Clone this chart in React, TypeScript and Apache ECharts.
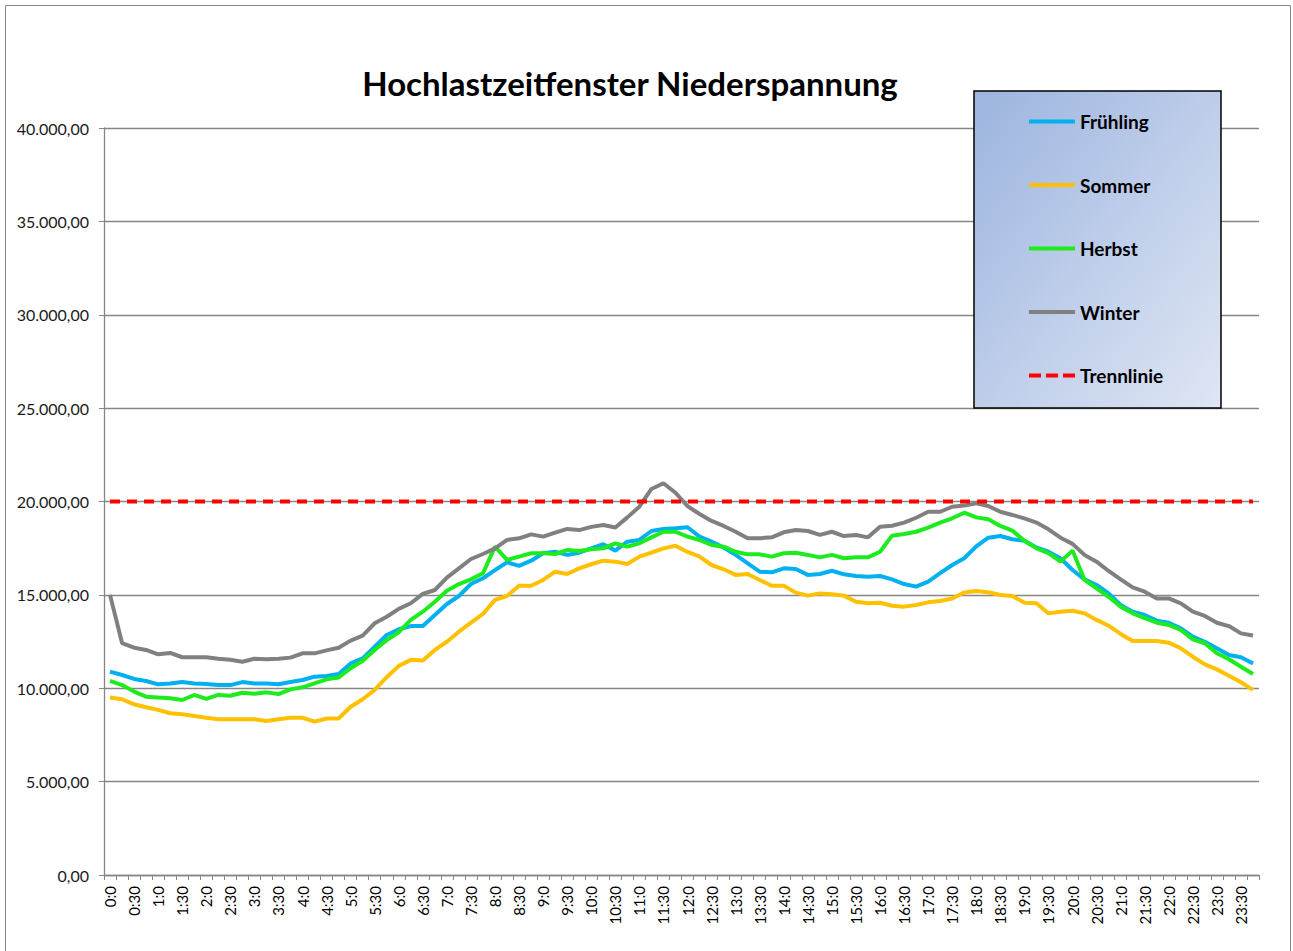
import React, { useEffect, useRef } from "react";
import * as echarts from "echarts";

const categories: string[] = Array.from({ length: 96 }, (_, i) => `${Math.floor(i / 4)}:${(i % 4) * 15}`);

const seriesNames = ["Frühling", "Sommer", "Herbst", "Winter", "Trennlinie"];

const fruehling = [
  10890, 10710, 10500, 10390, 10210, 10260, 10330, 10250, 10230, 10170, 10170, 10330,
  10260, 10260, 10210, 10330, 10440, 10620, 10660, 10760, 11330, 11600, 12230, 12850,
  13160, 13330, 13330, 13920, 14510, 14940, 15580, 15890, 16330, 16740, 16550, 16830,
  17230, 17310, 17140, 17260, 17490, 17710, 17370, 17850, 17940, 18420, 18530, 18570,
  18620, 18120, 17850, 17540, 17140, 16690, 16240, 16210, 16420, 16390, 16070, 16120,
  16290, 16100, 16010, 15970, 16010, 15830, 15580, 15440, 15710, 16160, 16600, 16960,
  17600, 18060, 18150, 17980, 17900, 17540, 17310, 16960, 16330, 15830, 15530, 15080,
  14460, 14100, 13920, 13620, 13510, 13210, 12760, 12490, 12140, 11780, 11660, 11330,
];

const sommer = [
  9510, 9410, 9140, 8980, 8840, 8660, 8610, 8510, 8420, 8340, 8340, 8340,
  8340, 8250, 8340, 8420, 8420, 8210, 8380, 8380, 9010, 9410, 9910, 10590,
  11200, 11520, 11480, 12050, 12490, 13030, 13510, 13980, 14730, 14940, 15490, 15490,
  15800, 16240, 16120, 16420, 16640, 16830, 16780, 16650, 17050, 17260, 17490, 17630,
  17300, 17050, 16600, 16370, 16070, 16120, 15800, 15490, 15490, 15120, 14960, 15080,
  15030, 14960, 14630, 14550, 14580, 14420, 14370, 14460, 14600, 14670, 14810, 15130,
  15210, 15140, 14990, 14940, 14580, 14550, 14010, 14100, 14150, 14010, 13660, 13350,
  12910, 12530, 12530, 12530, 12440, 12140, 11690, 11280, 11010, 10670, 10320, 9910,
];

const herbst = [
  10390, 10170, 9820, 9550, 9500, 9460, 9370, 9640, 9430, 9640, 9600, 9760,
  9710, 9780, 9690, 9940, 10050, 10260, 10480, 10580, 11070, 11470, 12050, 12580,
  13000, 13660, 14100, 14630, 15220, 15580, 15830, 16160, 17580, 16870, 17050, 17230,
  17230, 17190, 17400, 17350, 17440, 17490, 17760, 17580, 17760, 18080, 18380, 18380,
  18120, 17940, 17670, 17580, 17310, 17170, 17170, 17050, 17230, 17260, 17140, 17010,
  17140, 16960, 17010, 17010, 17310, 18170, 18260, 18380, 18600, 18870, 19100, 19400,
  19150, 19050, 18690, 18440, 17900, 17490, 17230, 16780, 17370, 15800, 15350, 14900,
  14370, 14010, 13750, 13510, 13390, 13120, 12620, 12410, 11870, 11550, 11150, 10760,
];

const winter = [
  15000, 12420, 12170, 12050, 11820, 11890, 11660, 11660, 11660, 11580, 11530, 11420,
  11580, 11550, 11580, 11640, 11870, 11870, 12030, 12170, 12550, 12820, 13480, 13830,
  14250, 14550, 15050, 15260, 15920, 16420, 16920, 17190, 17490, 17940, 18030, 18240,
  18120, 18330, 18530, 18470, 18640, 18740, 18610, 19150, 19720, 20670, 20980, 20470,
  19750, 19330, 18960, 18690, 18380, 18030, 18030, 18080, 18350, 18470, 18420, 18210,
  18380, 18150, 18210, 18080, 18650, 18700, 18870, 19130, 19450, 19450, 19720, 19780,
  19900, 19760, 19450, 19280, 19100, 18870, 18510, 18060, 17730, 17140, 16780, 16280,
  15830, 15400, 15170, 14810, 14810, 14550, 14100, 13870, 13510, 13330, 12940, 12820,
];

const trennlinie: number[] = categories.map(() => 20000);

const colors = ["#00B0F0", "#FFC000", "#1EEB1E", "#808080", "#FF0000"];

const solidIcon = "path://M0,0h46v4h-46z";
const dashedIcon = "path://M0,0h12v4h-12zM17,0h12v4h-12zM34,0h12v4h-12z";

const formatDe = (v: number) =>
  Math.round(v).toString().replace(/\B(?=(\d{3})+(?!\d))/g, ".") + ",00";

export default function App() {
  const ref = useRef<HTMLDivElement>(null);
  useEffect(() => {
    if (!ref.current) return;
    const chart = echarts.init(ref.current, undefined, { renderer: "svg" });
    const data = [fruehling, sommer, herbst, winter, trennlinie];
    const axisColor = "#868686";
    chart.setOption({
      animation: false,
      backgroundColor: "#ffffff",
      title: {
        text: "Hochlastzeitfenster Niederspannung",
        left: 625,
        textAlign: "center",
        top: 61,
        textStyle: { fontFamily: "Lato", fontWeight: "bold", fontSize: 33, color: "#000" },
      },
      graphic: [
        {
          type: "rect",
          z: 0,
          silent: true,
          shape: { x: 5.5, y: 5.5, width: 1285, height: 980 },
          style: { fill: "none", stroke: "#868686", lineWidth: 1 },
        },
        {
          type: "rect",
          z: 3,
          silent: true,
          shape: { x: 974, y: 91, width: 247, height: 317 },
          style: {
            fill: new echarts.graphic.LinearGradient(0, 0, 1, 1, [
              { offset: 0, color: "#9CB4DF" },
              { offset: 1, color: "#DFE6F4" },
            ]),
            stroke: "#000",
            lineWidth: 1.5,
          },
        },
      ],
      legend: {
        orient: "vertical",
        left: 1029,
        top: 112,
        padding: 0,
        itemWidth: 46,
        itemHeight: 20,
        itemGap: 44.5,
        z: 10,
        data: seriesNames.map((name, i) => ({ name, icon: i === 4 ? dashedIcon : solidIcon })),
        textStyle: { fontFamily: "Lato", fontWeight: "bold", fontSize: 19, color: "#000" },
      },
      grid: { left: 104, right: 34, top: 128, bottom: 76, containLabel: false },
      xAxis: {
        type: "category",
        data: categories,
        boundaryGap: true,
        axisLine: { lineStyle: { color: axisColor, width: 1.3 } },
        axisTick: { show: true, interval: 0, alignWithLabel: false, length: 5, lineStyle: { color: axisColor } },
        axisLabel: {
          interval: 1,
          rotate: 90,
          margin: 11,
          fontFamily: "Lato",
          fontSize: 15,
          color: "#000",
        },
        splitLine: { show: false },
      },
      yAxis: {
        type: "value",
        min: 0,
        max: 40000,
        interval: 5000,
        axisLine: { show: true, lineStyle: { color: axisColor, width: 1.3 } },
        axisTick: { show: true, length: 5, lineStyle: { color: axisColor } },
        axisLabel: {
          formatter: (v: number) => formatDe(v),
          margin: 15,
          fontFamily: "Lato",
          fontSize: 16,
          color: "#1a1a1a",
        },
        splitLine: { show: true, lineStyle: { color: axisColor, width: 1.3 } },
      },
      series: seriesNames.map((name, i) => ({
        name,
        type: "line",
        data: data[i],
        symbol: "none",
        showSymbol: false,
        smooth: false,
        color: colors[i],
        itemStyle: { color: colors[i] },
        lineStyle: {
          color: colors[i],
          width: 4,
          type: i === 4 ? [10, 7] : "solid",
        },
      })),
    });
    return () => chart.dispose();
  }, []);
  return (
    <div
      ref={ref}
      style={{ position: "fixed", left: 0, top: 0, width: 1293, height: 951 }}
    />
  );
}
